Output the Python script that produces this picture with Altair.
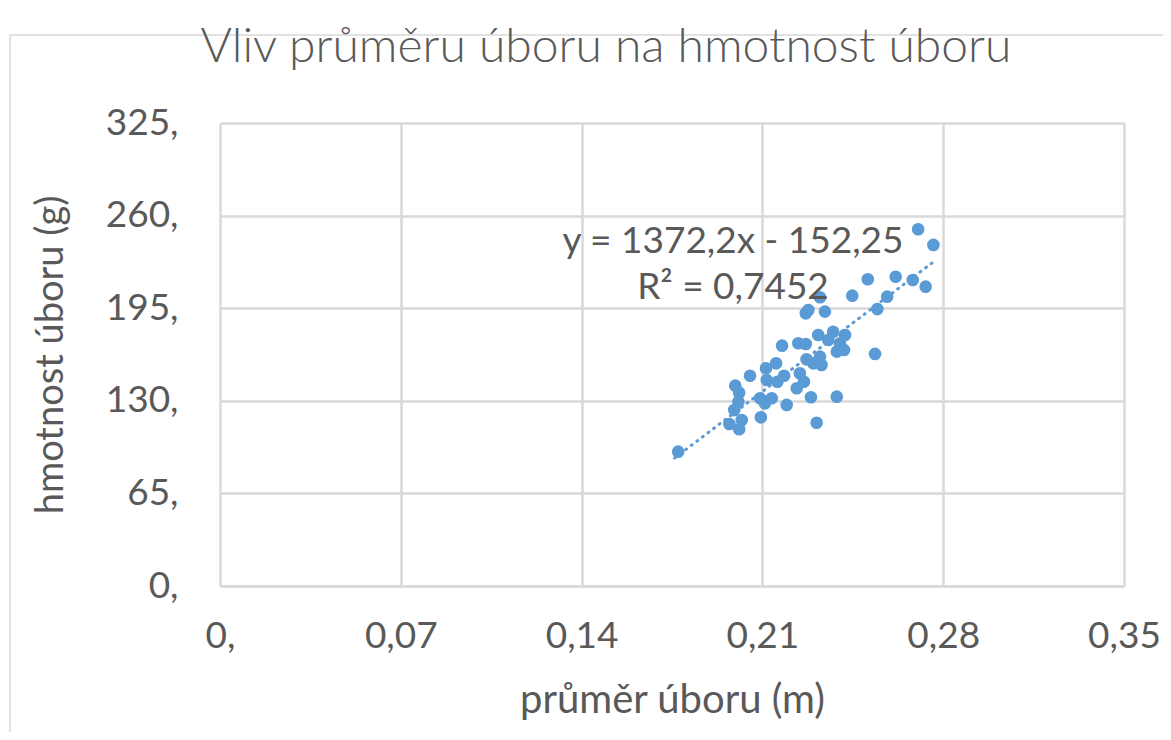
import altair as alt
import pandas as pd

# Data
prumer = [0.2703, 0.2762, 0.2508, 0.2616, 0.2682, 0.2732, 0.2583, 0.2448, 0.2545,
          0.2323, 0.2268, 0.2278, 0.2342, 0.2176, 0.2239, 0.2268, 0.2316, 0.2374,
          0.2420, 0.2355, 0.2400, 0.2388, 0.2416, 0.2536, 0.2271, 0.2323, 0.2329,
          0.2297, 0.2153, 0.2114, 0.2117, 0.2052, 0.2184, 0.2158, 0.2245, 0.2261,
          0.2233, 0.1995, 0.2010, 0.2007, 0.1991, 0.2091, 0.2136, 0.2110, 0.2194,
          0.2288, 0.2388, 0.2094, 0.2020, 0.1972, 0.2010, 0.2310, 0.1774]
hmotnost = [250.4, 239.4, 215.3, 217.1, 214.8, 210.1, 203.1, 203.8, 194.4,
            202.7, 191.4, 193.7, 192.6, 168.7, 170.4, 169.9, 176.2, 178.5,
            176.2, 172.7, 170.4, 164.5, 165.7, 162.9, 159.1, 161.0, 155.1,
            156.3, 156.3, 152.8, 144.6, 147.6, 147.6, 143.4, 149.3, 143.4,
            138.8, 140.6, 135.7, 129.4, 123.5, 131.8, 131.8, 128.2, 127.1,
            132.5, 132.9, 118.4, 116.5, 113.7, 110.0, 114.6, 94.3]
x_ticks = [0, 0.07, 0.14, 0.21, 0.28, 0.35]
y_ticks = [0, 65, 130, 195, 260, 325]
title_text = ["Vliv průměru úboru na hmotnost úboru"]
equation_text = ["y = 1372,2x - 152,25", "R² = 0,7452"]

df = pd.DataFrame({"x": prumer, "y": hmotnost})

FONT = "Lato"
GREY = "#595959"
BLUE = "#5b9bd5"
W, H = 904, 463

xscale = alt.Scale(domain=[0, 0.35], nice=False, zero=True)
yscale = alt.Scale(domain=[0, 325], nice=False, zero=True)

x_enc = alt.X("x:Q", scale=xscale, title="průměr úboru (m)",
              axis=alt.Axis(values=x_ticks, grid=True, gridColor="#d9d9d9", gridWidth=2.5,
                            domain=True, domainColor="#d9d9d9", domainWidth=2.5, ticks=False,
                            labelFlush=False,
                            labelExpr="datum.value == 0 ? '0,' : replace(format(datum.value, '.2f'), '.', ',')",
                            labelFont=FONT, labelFontSize=37, labelColor=GREY, labelPadding=32,
                            titleFont=FONT, titleFontSize=40, titleColor=GREY, titleFontWeight="normal",
                            titlePadding=26))
y_enc = alt.Y("y:Q", scale=yscale, title="hmotnost úboru (g)",
              axis=alt.Axis(values=y_ticks, grid=True, gridColor="#d9d9d9", gridWidth=2.5,
                            domain=False, ticks=False, labelFlush=False,
                            labelExpr="format(datum.value, 'd') + ','",
                            labelFont=FONT, labelFontSize=37, labelColor=GREY, labelPadding=42,
                            titleFont=FONT, titleFontSize=38, titleColor=GREY, titleFontWeight="normal",
                            titlePadding=35))

points = alt.Chart(df).mark_circle(size=160, opacity=1, color=BLUE).encode(x=x_enc, y=y_enc)

trend = alt.Chart(df).transform_regression(
    "x", "y", method="linear", extent=[0.176, 0.277]
).mark_line(color=BLUE, strokeWidth=3, strokeDash=[1, 6], strokeCap="round").encode(
    x=alt.X("x:Q", scale=xscale), y=alt.Y("y:Q", scale=yscale))

title_df = pd.DataFrame({"t": title_text})
title = alt.Chart(title_df).mark_text(font=FONT, fontSize=48, color=GREY, align="center",
                                      baseline="middle", fontWeight=300).encode(
    text="t:N", x=alt.value(386), y=alt.value(-75))

eq_df = pd.DataFrame({"t": equation_text, "px": [513, 513], "py": [119, 165]})
eq = alt.Chart(eq_df).mark_text(font=FONT, fontSize=37, color=GREY, align="center",
                                baseline="middle").encode(
    text="t:N", x=alt.X("px:Q", scale=None), y=alt.Y("py:Q", scale=None))

frame = alt.Chart(title_df).mark_rect(fill=None, stroke="#d9d9d9", strokeWidth=1.5).encode(
    x=alt.value(-210), y=alt.value(-88), x2=alt.value(1000), y2=alt.value(700))

chart = alt.layer(frame, trend, points, eq, title).properties(
    width=W, height=H,
    autosize=alt.AutoSizeParams(type="none"),
    padding={"left": 212, "top": 115, "right": 39, "bottom": 146},
).configure_view(stroke=None)

chart.save("out.html", embed_options={"renderer": "svg", "actions": False})
